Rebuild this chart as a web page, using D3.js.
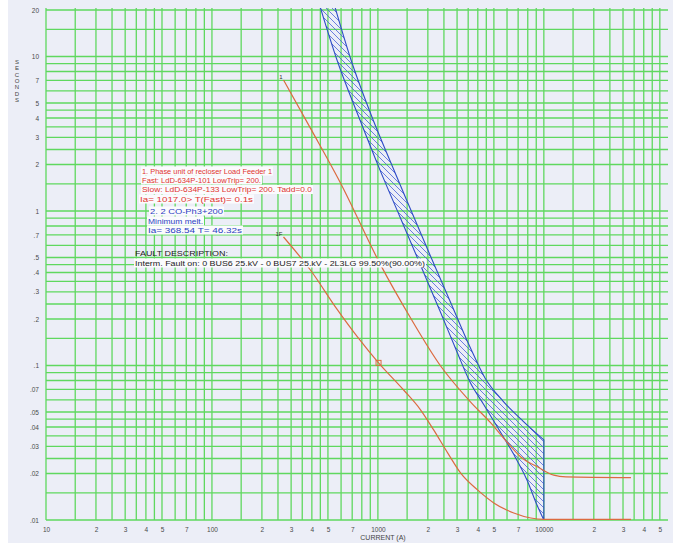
<!DOCTYPE html>
<html>
<head>
<meta charset="utf-8">
<script src="https://cdn.jsdelivr.net/npm/d3@7"></script>
<style>
body{margin:0;background:#fff;}
text{font-family:"Liberation Sans", Arial, sans-serif;}
</style>
</head>
<body>
<div id="chart"></div>
<script>
//Axis ticks
let xTickValues = [10,20,30,40,50,70,100,200,300,400,500,700,1000,2000,3000,4000,5000,7000,10000,20000,30000,40000,50000];
let xTickLabels = ["10","2","3","4","5","7","100","2","3","4","5","7","1000","2","3","4","5","7","10000","2","3","4","5"];
let yTickValues = [20,10,7,5,4,3,2,1,0.7,0.5,0.4,0.3,0.2,0.1,0.07,0.05,0.04,0.03,0.02,0.01];
let yTickLabels = ["20","10","7","5","4","3","2","1",".7",".5",".4",".3",".2",".1",".07",".05",".04",".03",".02",".01"];

//Grid lines inside each decade
let xDecades = [10,100,1000,10000];
let yDecades = [0.01,0.1,1,10];
let gridSteps = [1,1.5,2,2.5,3,3.5,4,4.5,5,6,7,8,9];

//Recloser slow curve (1)
let slowAmps = [270,392,595,1038,1574,2388,3622,4786,6067,7261,9205,11480,13590,33500];
let slowSecs = [7.05,3.44,1.52,0.448,0.203,0.0993,0.058,0.0425,0.0315,0.0256,0.022,0.0195,0.019,0.0188];

//Recloser fast curve (1F)
let fastAmps = [270,392,571,753,1009,1429,1811,2168,2632,3155,3999,4993,6590,8340,10000,33500];
let fastSecs = [0.679,0.415,0.229,0.153,0.104,0.0694,0.0515,0.0383,0.0272,0.0201,0.0156,0.0129,0.0111,0.0103,0.0101,0.0101];

//Fuse band: minimum melt (left) and total clear (right)
let meltAmps = [436,567,780,1030,1359,1794,2367,2998,3589,4359,5292,6518,7914,9093,10000];
let meltSecs = [23.2,9.49,3.88,1.84,0.915,0.454,0.2254,0.1223,0.0782,0.0555,0.0394,0.0271,0.01816,0.0125,0.01];
let clearAmps = [536,689,921,1199,1561,2061,2719,3589,4419,5673,7487,10000];
let clearSecs = [23.2,9.49,4.06,2.045,1.046,0.519,0.2615,0.1318,0.083,0.0589,0.0437,0.033];

//Fault point on fast curve
let faultAmps = [1009];
let faultSecs = [0.104];

//Notes
let redNotes = ["1. Phase unit of recloser Load Feeder 1",
	"Fast: LdD-634P-101 LowTrip= 200.",
	"Slow: LdD-634P-133 LowTrip= 200.  Tadd=0.0",
	"Ia=  1017.0> T(Fast)=    0.1s"];
let blueNotes = ["2. 2  CO-Ph3+200", "Minimum melt.", "Ia=  368.54 T=  46.32s"];
let faultNotes = ["FAULT DESCRIPTION:",
	"Interm. Fault on:  0 BUS6 25.kV - 0 BUS7 25.kV - 2L3LG 99.50%(90.00%)"];

//Dimensions
let width = 673;
let height = 547;
let plotLeft = 46, plotRight = 668, plotTop = 8, plotBottom = 520;

let svg = d3.select("#chart").append("svg")
	.attr("width", width)
	.attr("height", height);

svg.append("rect")
	.attr("x", 8).attr("y", 0)
	.attr("width", width - 8).attr("height", 543)
	.attr("fill", "#eceef7");

let x = d3.scaleLog().domain([10, 56000]).range([plotLeft, plotRight]);
let y = d3.scaleLog().domain([0.01, 20]).range([plotBottom, 10]);

let defs = svg.append("defs");
defs.append("clipPath").attr("id", "plotClip")
	.append("rect")
		.attr("x", plotLeft).attr("y", plotTop)
		.attr("width", plotRight - plotLeft).attr("height", plotBottom - plotTop);

defs.append("pattern")
	.attr("id", "hatch")
	.attr("patternUnits", "userSpaceOnUse")
	.attr("width", 6).attr("height", 6)
	.append("path")
		.attr("d", "M-1,-1L7,7M-1,5L1,7M5,-1L7,1")
		.attr("stroke", "#4a60d8")
		.attr("stroke-width", 0.8);

//Grid
let xGrid = [], yGrid = [];
xDecades.forEach(function(d){
	gridSteps.forEach(function(m){
		let v = d * m;
		if(v >= 10 && v <= 56000) xGrid.push(v);
	});
});
yDecades.forEach(function(d){
	gridSteps.forEach(function(m){
		let v = d * m;
		if(v >= 0.0099 && v <= 20.01) yGrid.push(v);
	});
});

let grid = svg.append("g").attr("stroke", "#5fd85f").attr("stroke-width", 1.3);
grid.selectAll(".vg").data(xGrid).enter()
	.append("line")
		.attr("class", "vg")
		.attr("x1", d => x(d)).attr("x2", d => x(d))
		.attr("y1", plotTop).attr("y2", plotBottom);
grid.selectAll(".hg").data(yGrid).enter()
	.append("line")
		.attr("class", "hg")
		.attr("x1", plotLeft).attr("x2", plotRight)
		.attr("y1", d => y(d)).attr("y2", d => y(d));

//Axes
let xAxis = svg.append("g")
	.attr("transform", "translate(0," + (plotBottom + 4) + ")")
	.call(d3.axisBottom(x).tickValues(xTickValues).tickSize(0)
		.tickFormat((d, i) => xTickLabels[i]));
let yAxis = svg.append("g")
	.attr("transform", "translate(" + (plotLeft - 4) + ",0)")
	.call(d3.axisLeft(y).tickValues(yTickValues).tickSize(0)
		.tickFormat((d, i) => yTickLabels[i]));
[xAxis, yAxis].forEach(function(a){
	a.select(".domain").remove();
	a.selectAll("text")
		.style("font-size", "6.5px")
		.attr("fill", "#4a4a4a");
});

//Axis titles
svg.append("text")
	.attr("x", (plotLeft + plotRight) / 2 + 26)
	.attr("y", 540)
	.attr("text-anchor", "middle")
	.style("font-size", "7px")
	.attr("fill", "#444")
	.text("CURRENT (A)");

svg.append("g").selectAll("text")
	.data("SECONDS".split(""))
	.enter()
	.append("text")
		.attr("x", 17)
		.attr("y", (d, i) => 64 + i * 6.3)
		.attr("text-anchor", "middle")
		.style("font-size", "6px")
		.attr("fill", "#444")
		.text(d => d);

//Plot content
let plot = svg.append("g").attr("clip-path", "url(#plotClip)");

let curveLine = d3.line()
	.x(d => x(d[0]))
	.y(d => y(d[1]))
	.curve(d3.curveMonotoneX);

let meltPts = meltAmps.map((a, i) => [a, meltSecs[i]]);
let clearPts = clearAmps.map((a, i) => [a, clearSecs[i]]).reverse();
let bandPath = curveLine(meltPts) + curveLine(clearPts).replace(/^M/, "L") + "Z";

plot.append("path")
	.attr("d", bandPath)
	.attr("fill", "url(#hatch)")
	.attr("stroke", "#2f4cc6")
	.attr("stroke-width", 1.1);

plot.append("path")
	.attr("d", curveLine(slowAmps.map((a, i) => [a, slowSecs[i]])))
	.attr("fill", "none")
	.attr("stroke", "#dc6a40")
	.attr("stroke-width", 1.2);

plot.append("path")
	.attr("d", curveLine(fastAmps.map((a, i) => [a, fastSecs[i]])))
	.attr("fill", "none")
	.attr("stroke", "#dc6a40")
	.attr("stroke-width", 1.2);

plot.selectAll(".fault").data(faultAmps).enter()
	.append("rect")
		.attr("class", "fault")
		.attr("x", d => x(d) - 2.5)
		.attr("y", (d, i) => y(faultSecs[i]) - 2.5)
		.attr("width", 5).attr("height", 5)
		.attr("fill", "none")
		.attr("stroke", "#dc6a40")
		.attr("stroke-width", 1);

//Curve labels
svg.append("text")
	.attr("x", x(slowAmps[0]) - 1).attr("y", y(slowSecs[0]) - 1)
	.attr("text-anchor", "end")
	.style("font-size", "6px")
	.attr("fill", "#333")
	.text("1");
svg.append("text")
	.attr("x", x(fastAmps[0]) - 1).attr("y", y(fastSecs[0]) - 1)
	.attr("text-anchor", "end")
	.style("font-size", "6px")
	.attr("fill", "#333")
	.text("1F");

//Notes
let addNote = function(txt, px, py, w, color, backed){
	if(backed){
		svg.append("rect")
			.attr("x", px - 1).attr("y", py - 4.5)
			.attr("width", w + 2).attr("height", 9)
			.attr("fill", "#fbfbfd");
	}
	svg.append("text")
		.attr("x", px).attr("y", py + 2.5)
		.attr("textLength", w)
		.attr("lengthAdjust", "spacingAndGlyphs")
		.style("font-size", "7px")
		.attr("fill", color)
		.text(txt);
}

let redPos = [[142,171,130],[142,180,119],[142,189.5,170],[140,199,113]];
redNotes.forEach((t, i) => addNote(t, redPos[i][0], redPos[i][1], redPos[i][2], "#e0332f", true));
let bluePos = [[150,211,73],[148,221,55],[148,230,94]];
blueNotes.forEach((t, i) => addNote(t, bluePos[i][0], bluePos[i][1], bluePos[i][2], "#2b3fc2", true));
let faultPos = [[135,253,93,false],[135,263,290,true]];
faultNotes.forEach((t, i) => addNote(t, faultPos[i][0], faultPos[i][1], faultPos[i][2], "#222", faultPos[i][3]));
</script>
</body>
</html>
